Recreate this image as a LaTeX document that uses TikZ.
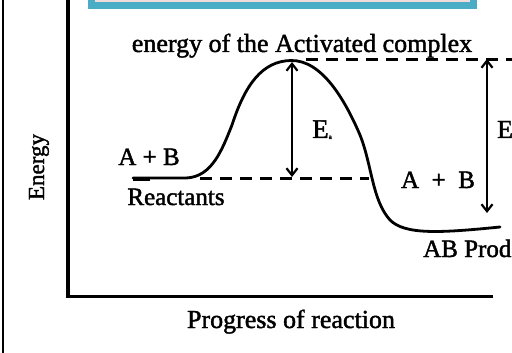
\documentclass[tikz,border=0pt]{standalone}
\usepackage{fontspec}
\setmainfont{Liberation Serif}[FakeBold=1.6]
\usetikzlibrary{arrows.meta}
\definecolor{boxblue}{RGB}{75,172,198}
\definecolor{boxpink}{RGB}{242,220,219}
\tikzset{
  ink/.style={line width=2.8pt, black},
  axisline/.style={line width=3.4pt, black},
  dashline/.style={line width=3pt, dash pattern=on 12pt off 8pt},
  dblarrow/.style={line width=2.2pt, {Straight Barb[length=7pt,width=11pt,line width=2.2pt]}-{Straight Barb[length=7pt,width=11pt,line width=2.2pt]}},
  lbl/.style={font=\fontsize{25}{28}\selectfont, inner sep=0pt, anchor=base},
  biglbl/.style={lbl, font=\fontsize{26}{30}\selectfont},
}
\begin{document}
\begin{tikzpicture}[x=1pt,y=-1pt]
\useasboundingbox (0,0) rectangle (512,353);
\fill[white] (0,0) rectangle (512,353);
% top banner
\draw[boxblue, fill=boxpink, line width=7pt] (91.5,-20) rectangle (473.5,5.5);
% page border line
\draw[line width=2.6pt] (3,0) -- (3,353);
% axes
\coordinate (ytop) at (68,-5);
\coordinate (origin) at (68,296.5);
\coordinate (xend) at (493,296.5);
\draw[axisline] (ytop) -- (origin) -- (xend);
% key levels
\coordinate (start) at (133,178);
\coordinate (peak) at (291,60.5);
\coordinate (prodend) at (500,227);
\coordinate (eatop) at (292,62);
\coordinate (eabot) at (292,177);
\coordinate (rlvlA) at (200,178);
\coordinate (rlvlB) at (369,178);
\coordinate (plvlA) at (306,60);
\coordinate (plvlB) at (512,60);
\coordinate (etop) at (487,59);
\coordinate (ebot) at (487,213);
% energy curve
\draw[ink, line cap=round, line join=round] (start) -- (186,178)
  .. controls (212,177) and (222,150) .. (232,125)
  .. controls (245,85) and (262,61) .. (peak)
  .. controls (322,60) and (345,100) .. (360,135)
  .. controls (372,165) and (372,200) .. (390,220)
  .. controls (405,235) and (440,233) .. (prodend);
\draw[line width=4pt] (133,178.5) -- (150,178.5);
% dashed levels
\draw[dashline] (rlvlA) -- (rlvlB);
\draw[dashline] (plvlA) -- (plvlB);
% arrows
\draw[dblarrow] (eatop) -- (eabot);
\draw[dblarrow] (etop) -- (ebot);
% labels
\node[biglbl] (title) at (302,52) {energy of the Activated complex};
\node[lbl] (ab1) at (149,165) {A + B};
\node[lbl] (react) at (176,205) {Reactants};
\node[lbl] (ab2) at (438,188) {A\ \ +\ \ B};
\node[lbl, anchor=base west] (ea) at (312,138) {\fontsize{27}{30}\selectfont E\raisebox{-1pt}{\fontsize{7}{8}\selectfont a}};
\node[lbl, anchor=base west] (e2) at (497,138) {\fontsize{26}{30}\selectfont E};
\node[lbl, anchor=base west] (prod) at (423,257) {AB Prod};
\node[lbl, rotate=90] (energy) at (44,167) {\fontsize{23}{26}\selectfont Energy};
\node[biglbl] (prog) at (291,328) {Progress of reaction};
\end{tikzpicture}
\end{document}
